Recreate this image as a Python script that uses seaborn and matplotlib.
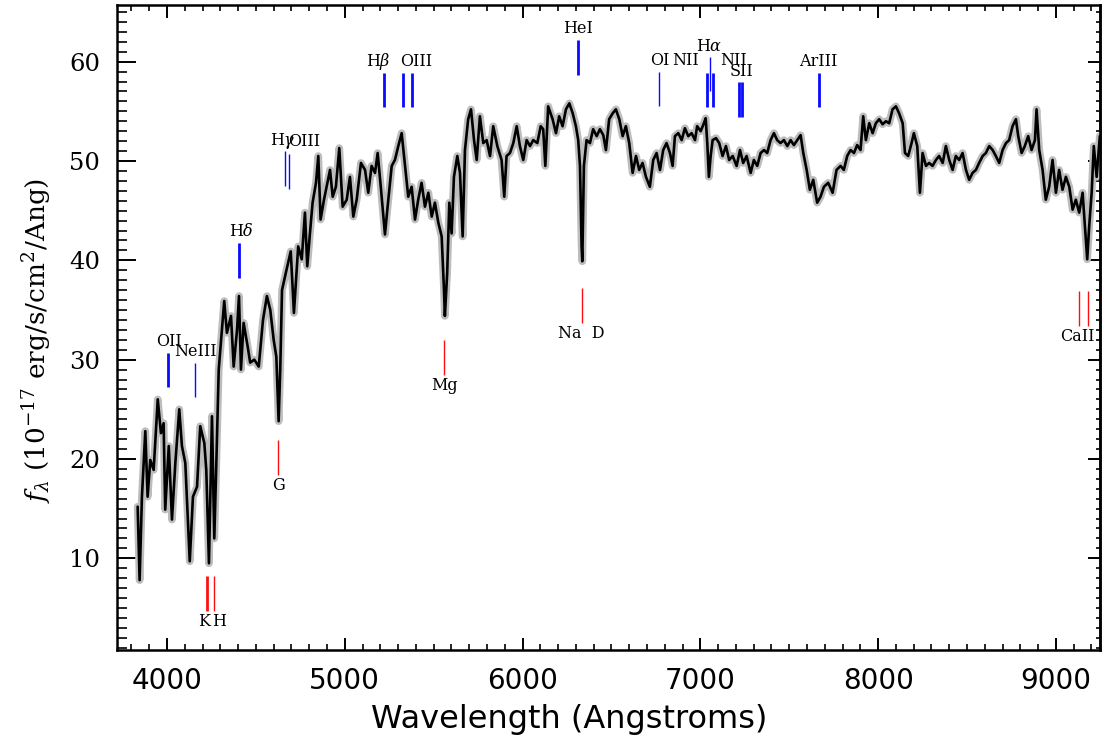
import numpy as np
import pandas as pd
import matplotlib
matplotlib.use('Agg')
import matplotlib.pyplot as plt
import seaborn as sns
from matplotlib.ticker import MultipleLocator

sns.set_style('ticks')
plt.rcParams['font.family'] = ['DejaVu Serif']
plt.rcParams['mathtext.fontset'] = 'dejavuserif'
for k in ['text.color', 'axes.labelcolor', 'xtick.color', 'ytick.color', 'axes.edgecolor']:
    plt.rcParams[k] = 'black'

wave = [3835, 3846, 3859, 3878, 3891, 3906, 3925, 3948, 3966, 3981,
        3990, 4010, 4028, 4047, 4069, 4084, 4103, 4128, 4146, 4169,
        4187, 4210, 4221, 4236, 4253, 4266, 4277, 4291, 4309, 4322,
        4337, 4360, 4375, 4394, 4405, 4416, 4431, 4454, 4468, 4491,
        4516, 4540, 4562, 4581, 4600, 4615, 4628, 4637, 4647,
        4673, 4696, 4714, 4738, 4758, 4776, 4789, 4804, 4819, 4838,
        4851, 4864, 4883, 4902, 4917, 4932, 4950, 4969, 4988, 5011,
        5029, 5048, 5067, 5091, 5114, 5132, 5151, 5170, 5185, 5204,
        5226, 5241, 5264, 5282, 5301, 5320, 5339, 5357, 5376, 5395,
        5413, 5432, 5451, 5470, 5489, 5507, 5526, 5545, 5558, 5563,
        5576, 5588, 5601, 5614, 5633, 5648, 5663, 5676, 5694, 5710,
        5727, 5742, 5760, 5779, 5798, 5817, 5835, 5858, 5882, 5897,
        5910, 5929, 5948, 5967, 5985, 6004, 6023, 6042, 6060, 6083,
        6102, 6116, 6128, 6144,
        6169, 6188, 6206, 6225, 6244, 6263, 6282, 6300, 6313, 6323,
        6332, 6336, 6345, 6360, 6379, 6397, 6417, 6435, 6454, 6469,
        6487, 6507, 6525, 6544, 6563, 6581, 6600, 6619, 6638, 6656,
        6675, 6694, 6716, 6735, 6754, 6773, 6791, 6810, 6829, 6844,
        6857, 6876, 6895, 6913, 6932, 6951, 6970, 6982, 7002, 7020,
        7030, 7039, 7048, 7058, 7069, 7088, 7106, 7125, 7144, 7162,
        7182, 7204, 7223, 7241, 7260, 7283, 7301, 7320, 7339, 7358,
        7376, 7395, 7414, 7432, 7451, 7470, 7489, 7508, 7526, 7545,
        7564, 7579, 7598, 7616, 7635, 7657, 7676,
        7695, 7719, 7744, 7766, 7789, 7807, 7826, 7845, 7864, 7882,
        7901, 7916, 7931, 7950, 7969, 7987, 8006, 8025, 8044, 8062,
        8081, 8100, 8118, 8138, 8151, 8169, 8188, 8201, 8220, 8235,
        8250, 8269, 8287, 8306, 8325, 8343, 8363, 8381, 8400, 8419,
        8437, 8456, 8475, 8494, 8512, 8531, 8550, 8568, 8588, 8606,
        8625, 8644, 8662, 8681, 8700, 8719, 8737, 8756, 8775, 8788,
        8807, 8825, 8844, 8863, 8882, 8891, 8906, 8925, 8943, 8962,
        8981, 9000, 9018, 9037, 9056, 9075, 9094, 9112, 9131, 9150,
        9163, 9176, 9187, 9201, 9213, 9229, 9247]

flux = [15.2, 7.8, 16.2, 22.8, 16.2, 19.9, 18.9, 26.0, 22.6, 23.6,
        14.9, 21.3, 13.9, 19.6, 25.0, 21.3, 19.6, 9.7, 16.2, 17.2,
        23.3, 21.6, 18.9, 9.5, 24.3, 12.0, 19.2, 29.0, 33.0, 35.9,
        32.7, 34.4, 29.3, 33.0, 36.4, 29.0, 33.7, 31.3, 29.7, 30.0,
        29.3, 34.0, 36.4, 35.0, 32.0, 30.3, 23.8, 29.0, 37.0,
        39.1, 40.9, 34.7, 41.4, 40.1, 44.8, 39.4, 42.7, 45.8, 47.8,
        50.5, 44.1, 46.1, 47.8, 49.1, 46.4, 47.4, 51.3, 45.4, 46.1,
        48.4, 44.4, 46.1, 49.8, 49.1, 46.8, 49.5, 48.8, 50.8, 47.1,
        42.6, 45.4, 49.5, 50.1, 51.5, 52.8, 49.5, 46.4, 47.4, 44.1,
        46.1, 47.8, 45.4, 46.8, 44.4, 45.8, 43.8, 42.4, 37.0, 34.4,
        38.7, 45.8, 42.7, 48.4, 50.5, 48.8, 42.4, 51.1, 54.2, 55.2,
        52.1, 50.1, 54.5, 51.8, 52.1, 50.5, 53.5, 51.5, 50.1, 46.4,
        50.5, 50.8, 51.8, 53.5, 51.5, 50.1, 52.1, 51.5, 52.1, 51.8,
        53.5, 53.2, 49.5, 55.5,
        54.2, 52.8, 54.5, 53.5, 55.2, 55.8, 54.8, 53.5, 52.1, 49.5,
        41.4, 39.9, 49.5, 52.1, 51.8, 53.2, 52.5, 53.2, 52.6, 51.1,
        54.2, 54.8, 55.2, 54.2, 52.5, 53.5, 51.8, 48.8, 50.5, 49.1,
        49.8, 48.4, 47.4, 50.1, 50.8, 49.1, 51.1, 51.8, 50.8, 49.5,
        52.5, 52.8, 52.1, 53.3, 52.5, 52.8, 52.1, 53.5, 53.0, 53.8,
        54.3, 51.8, 48.4, 50.5, 52.1, 52.3, 51.8, 50.5, 51.5, 50.1,
        50.5, 49.5, 51.1, 49.8, 50.5, 48.8, 50.1, 49.5, 50.8, 51.1,
        50.8, 52.1, 52.8, 52.1, 51.8, 52.1, 51.5, 52.1, 51.6, 52.1,
        52.6, 50.8, 49.1, 47.1, 48.1, 45.8, 46.4,
        47.4, 47.8, 46.8, 49.1, 49.5, 49.1, 50.5, 51.1, 50.8, 51.6,
        51.1, 54.5, 52.1, 53.8, 52.8, 53.8, 54.2, 53.7, 54.0, 53.8,
        55.2, 55.5, 54.8, 53.8, 50.8, 50.5, 51.8, 52.8, 51.5, 46.8,
        50.8, 49.5, 49.8, 49.5, 50.1, 50.5, 49.8, 51.5, 50.1, 49.1,
        50.5, 50.1, 50.8, 49.1, 48.1, 48.8, 49.1, 49.8, 50.5, 50.8,
        51.5, 51.1, 50.5, 49.8, 51.1, 51.8, 52.1, 53.5, 54.2, 52.5,
        50.8, 51.5, 52.5, 51.1, 52.1, 55.2, 51.1, 49.1, 46.1, 47.4,
        50.1, 46.8, 49.1, 47.1, 48.4, 47.4, 45.1, 46.1, 44.8, 46.8,
        43.4, 40.1, 43.4, 46.8, 51.5, 48.4, 52.5]

redshift = 0.0745

# emission lines (blue marks above the spectrum)
em_rest = [3727, 3869, 4102, 4340, 4363, 4861, 4959, 5007,
           5876, 6300, 6548, 6563, 6583, 6717, 6731, 7136]
em_top = [30.7, 29.7, 41.7, 51.0, 50.7, 58.9, 58.9, 58.9,
          62.2, 59.0, 58.9, 60.5, 58.9, 57.9, 57.9, 58.9]
em_strong = [1, 0, 1, 0, 0, 1, 1, 1, 1, 0, 1, 0, 1, 1, 1, 1]
em_label = ['OII', 'NeIII', r'H$\delta$', r'H$\gamma$', 'OIII', r'H$\beta$',
            'OIII', 'HeI', 'OI', 'NII', r'H$\alpha$', 'NII', 'SII', 'ArIII']
em_label_wave = [4012, 4163, 4416, 4651, 4774, 5187, 5404,
                 6313, 6770, 6915, 7049, 7189, 7230, 7661]
em_label_y = [31.8, 30.8, 42.9, 52.0, 52.0, 60.0, 60.0,
              63.3, 60.1, 60.1, 61.5, 60.1, 59.0, 60.0]

# absorption lines (red marks below the spectrum)
abs_rest = [3934, 3969, 4304, 5175, 5894, 8498, 8542]
abs_top = [8.2, 8.2, 21.9, 32.0, 37.2, 36.9, 36.9]
abs_strong = [1, 0, 0, 0, 0, 0, 0]
abs_label = ['K', 'H', 'G', 'Mg', 'Na  D', 'CaII']
abs_label_wave = [4211, 4295, 4626, 5562, 6328, 9118]
abs_label_y = [3.6, 3.6, 17.3, 27.4, 32.6, 32.3]

spec = pd.DataFrame({'wave': wave, 'flux': flux})

fig = plt.figure(figsize=(11.02, 7.49), dpi=100)
ax = fig.add_axes([0.1062, 0.1322, 0.892, 0.8611])

# grey envelope, then the black spectrum
sns.lineplot(data=spec, x='wave', y='flux', ax=ax, color='#bdbdbd', lw=5.5,
             estimator=None, sort=False)
sns.lineplot(data=spec, x='wave', y='flux', ax=ax, color='black', lw=1.9,
             estimator=None, sort=False)

mark_len = 3.5
em_x = np.array(em_rest) * (1 + redshift)
ax.vlines(em_x, np.array(em_top) - mark_len, em_top, colors='#0a0aff',
          linewidths=[2.0 if s else 1.0 for s in em_strong])
for t, x, y in zip(em_label, em_label_wave, em_label_y):
    ax.text(x, y, t, ha='center', va='center', fontsize=11.5, color='black')

ab_x = np.array(abs_rest) * (1 + redshift)
ax.vlines(ab_x, np.array(abs_top) - mark_len, abs_top, colors='#ff1010',
          linewidths=[2.0 if s else 1.0 for s in abs_strong])
for t, x, y in zip(abs_label, abs_label_wave, abs_label_y):
    ax.text(x, y, t, ha='center', va='center', fontsize=11.5, color='black')

ax.set_xlim(3719, 9248)
ax.set_ylim(0.77, 65.7)
ax.xaxis.set_major_locator(MultipleLocator(1000))
ax.xaxis.set_minor_locator(MultipleLocator(100))
ax.yaxis.set_major_locator(MultipleLocator(10))
ax.yaxis.set_minor_locator(MultipleLocator(1))

ax.tick_params(axis='x', which='major', direction='in', length=9, width=1.4,
               top=True, bottom=True, pad=12)
ax.tick_params(axis='x', which='minor', direction='in', length=4.5, width=1.2,
               top=True, bottom=True)
ax.tick_params(axis='y', which='major', direction='in', length=14, width=1.4,
               left=True, right=False, pad=12)
ax.tick_params(axis='y', which='minor', direction='in', length=7, width=1.2,
               left=True, right=False)

# right-hand axis carries shorter ticks and no labels
rax = ax.secondary_yaxis('right')
rax.yaxis.set_major_locator(MultipleLocator(10))
rax.yaxis.set_minor_locator(MultipleLocator(1))
rax.tick_params(which='major', direction='in', length=9, width=1.4, labelright=False)
rax.tick_params(which='minor', direction='in', length=3, width=1.2)
rax.spines['right'].set_linewidth(1.8)

for s in ax.spines.values():
    s.set_linewidth(1.8)
    s.set_color('black')

for lab in ax.get_xticklabels():
    lab.set_family('DejaVu Sans')
    lab.set_fontsize(20)
for lab in ax.get_yticklabels():
    lab.set_family('DejaVu Serif')
    lab.set_fontsize(17.5)

ax.set_xlabel('Wavelength (Angstroms)', fontsize=23, family='DejaVu Sans')
ax.set_ylabel(r'$f_\lambda$ (10$^{-17}$ erg/s/cm$^2$/Ang)', fontsize=19)
ax.xaxis.set_label_coords(0.46, -0.108)
ax.xaxis.label.set_va('center')
ax.yaxis.set_label_coords(-0.082, 0.48)
ax.yaxis.label.set_va('center')

fig.savefig('out.png', dpi=100)
